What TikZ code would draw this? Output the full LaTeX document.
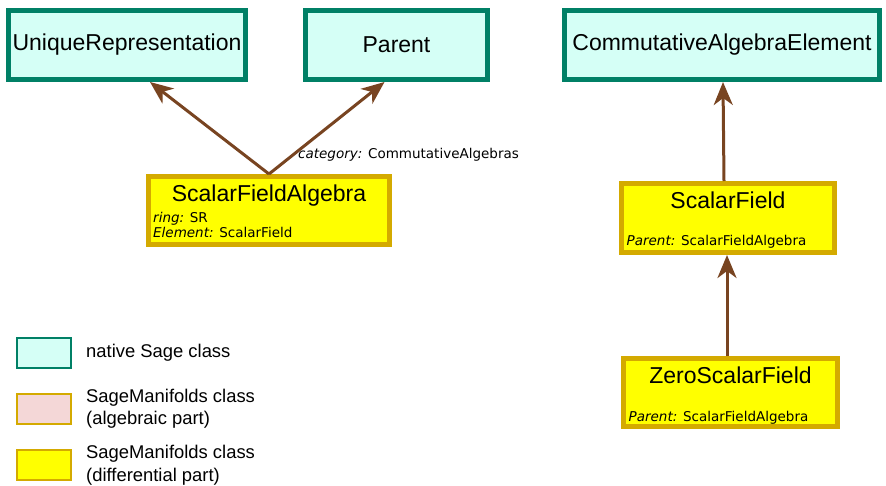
\documentclass[tikz,border=0pt]{standalone}
\usepackage{fontspec}
\setmainfont{Liberation Sans}
\newfontfamily\dejavu{DejaVu Sans}
\usetikzlibrary{positioning,arrows.meta}
\definecolor{sagegreen}{RGB}{0,128,102}
\definecolor{sagefill}{RGB}{213,255,246}
\definecolor{manigold}{RGB}{212,170,0}
\definecolor{maniyellow}{RGB}{255,255,0}
\definecolor{manipink}{RGB}{244,215,215}
\definecolor{inherit}{RGB}{120,68,33}

\begin{document}
\begin{tikzpicture}[x=1pt,y=-1pt,
    native/.style={draw=sagegreen,fill=sagefill,line width=5pt,inner sep=0pt},
    diffclass/.style={draw=manigold,fill=maniyellow,line width=5pt,inner sep=0pt},
    bigfont/.style={font=\fontsize{23}{27}\selectfont},
    title/.style={bigfont,inner sep=0pt,anchor=base},
    detail/.style={font=\dejavu\fontsize{13.5}{16}\selectfont,inner sep=0pt,anchor=base west},
    legbox/.style={line width=2pt,minimum width=54pt,minimum height=30pt,inner sep=0pt},
    legtext/.style={font=\fontsize{18.4}{22.5}\selectfont,align=left,inner sep=0pt},
    inh/.style={draw=inherit,line width=3pt,-{Stealth[length=23pt,width=19pt,inset=7pt]}},
]
    \useasboundingbox (0,0) rectangle (886,485);

    % native classes
    \node[native,bigfont,minimum width=237pt,minimum height=69pt] (ur) at (127,45) {UniqueRepresentation};
    \node[native,bigfont,minimum width=182pt,minimum height=69pt] (par) at (396.5,45) {Parent};
    \node[native,bigfont,minimum width=315pt,minimum height=69pt] (cae) at (722,45) {CommutativeAlgebraElement};

    % SageManifolds classes
    \node[diffclass,minimum width=241pt,minimum height=68pt] (sfa) at (269,210.5) {};
    \node[title] (sfat) at ([yshift=-27pt]sfa.north) {ScalarFieldAlgebra};
    \node[detail] (sfar) at ([shift={(7pt,-11.5pt)}]sfa.west) {\textit{ring:} SR};
    \node[detail] (sfae) at ([shift={(7pt,-26.5pt)}]sfa.west) {\textit{Element:} ScalarField};
    \node[detail] (cat) at ([shift={(29pt,16pt)}]sfa.north) {\textit{category:} CommutativeAlgebras};

    \node[diffclass,minimum width=213pt,minimum height=69pt] (sf) at (728,218) {};
    \node[title] (sft) at ([yshift=-27pt]sf.north) {ScalarField};
    \node[detail] (sfp) at ([shift={(7.5pt,-27pt)}]sf.west) {\textit{Parent:} ScalarFieldAlgebra};

    \node[diffclass,minimum width=214pt,minimum height=68pt] (zsf) at (730.5,392.5) {};
    \node[title] (zsft) at ([yshift=-27pt]zsf.north) {ZeroScalarField};
    \node[detail] (zsfp) at ([shift={(7.5pt,-28.5pt)}]zsf.west) {\textit{Parent:} ScalarFieldAlgebra};

    % inheritance
    \draw[inh] (sfa.north) -- ([xshift=23pt]ur.south);
    \draw[inh] (sfa.north) -- ([xshift=-12pt]par.south);
    \draw[inh] ([xshift=-4pt]sf.north) -- ([xshift=1pt]cae.south);
    \draw[inh] ([xshift=-3.5pt]zsf.north) -- ([xshift=-1pt]sf.south);

    % legend
    \node[legbox,draw=sagegreen,fill=sagefill] (leg1) at (44,353) {};
    \node[legbox,draw=manigold,fill=manipink] (leg2) at (44,408.5) {};
    \node[legbox,draw=manigold,fill=maniyellow] (leg3) at (44,465) {};
    \node[legtext,right=14pt of leg1] (legt1) {native Sage class};
    \node[legtext,right=14pt of leg2] (legt2) {SageManifolds class\\(algebraic part)};
    \node[legtext,right=14pt of leg3] (legt3) {SageManifolds class\\(differential part)};
\end{tikzpicture}
\end{document}
